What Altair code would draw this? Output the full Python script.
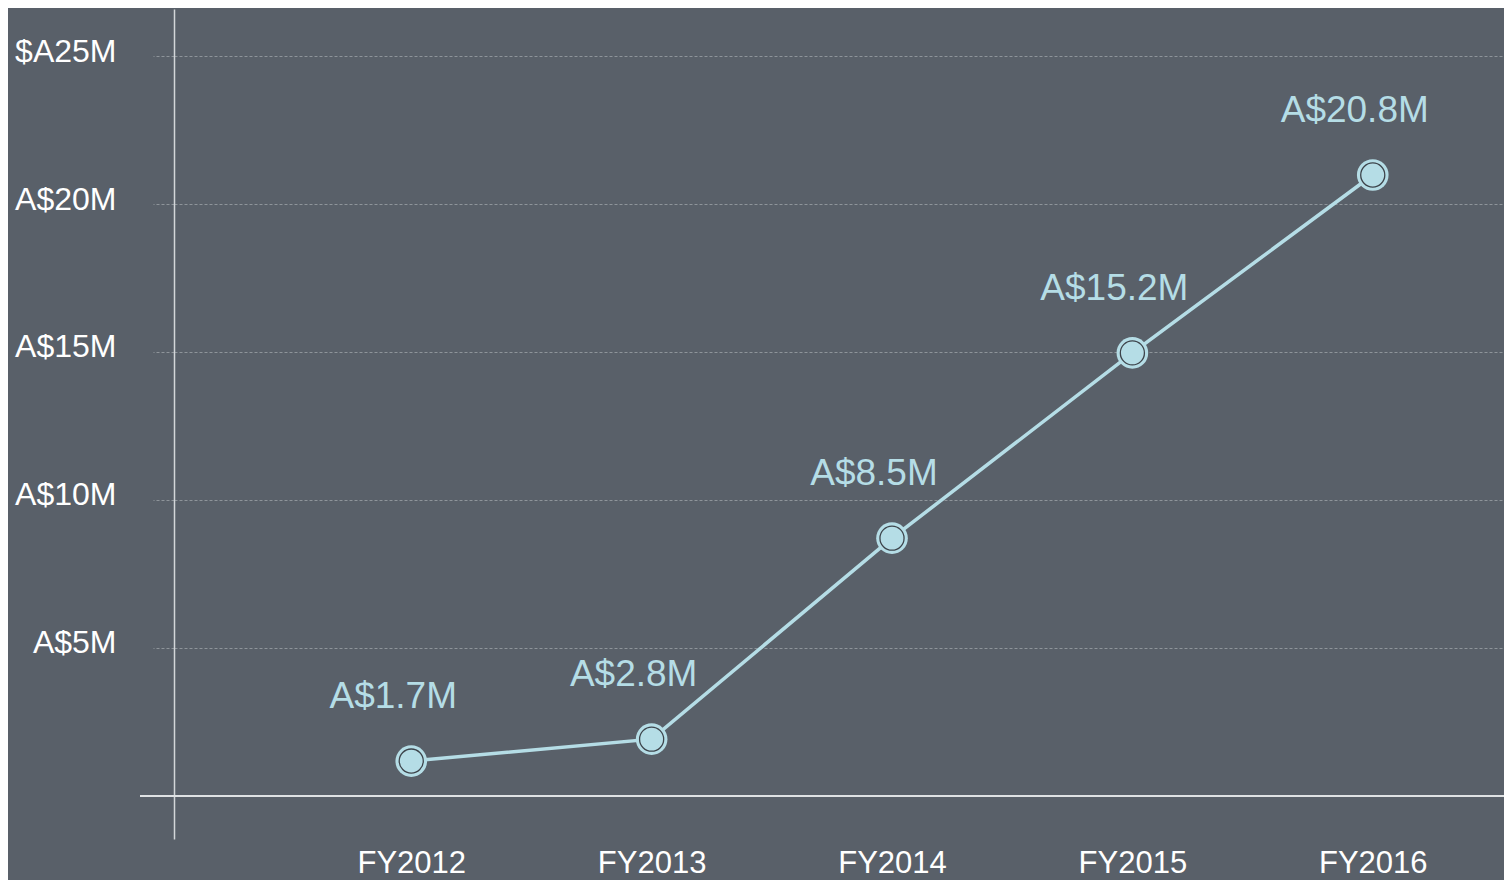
import altair as alt
import pandas as pd

# ---- data ----
years = [2012, 2013, 2014, 2015, 2016]
revenue_m = [1.18, 1.92, 8.71, 14.97, 20.98]
value_labels = ["A$1.7M", "A$2.8M", "A$8.5M", "A$15.2M", "A$20.8M"]

y_tick_values = [5, 10, 15, 20, 25]
y_tick_labels = ["A$5M", "A$10M", "A$15M", "A$20M", "$A25M"]
x_prefix = "FY"

df = pd.DataFrame({"year": years, "revenue": revenue_m, "label": value_labels})

BG = "#596069"
LINE = "#b5dde6"
FONT = "Liberation Sans"
W, H = 1330, 830

y_label_expr = " : ".join(
    [f"datum.value == {v} ? '{t}'" for v, t in zip(y_tick_values, y_tick_labels)] + ["''"]
)

x_scale = alt.Scale(domain=[2011.013, 2016.546], nice=False, zero=False)
y_scale = alt.Scale(domain=[-1.453, 26.588], nice=False, zero=False)

x_enc = alt.X(
    "year:Q",
    scale=x_scale,
    axis=alt.Axis(
        values=years,
        labelExpr=f"'{x_prefix}' + datum.value",
        ticks=False,
        tickSize=0,
        domain=False,
        grid=False,
        title=None,
        labelBaseline="alphabetic",
        labelPadding=33,
        labelFontSize=31,
        labelColor="#ffffff",
        labelFont=FONT,
    ),
)

y_enc = alt.Y(
    "revenue:Q",
    scale=y_scale,
    axis=alt.Axis(
        values=y_tick_values,
        labelExpr=y_label_expr,
        title=None,
        grid=True,
        gridColor="#8e949a",
        gridDash=[3, 2],
        gridWidth=1,
        ticks=True,
        tickSize=21,
        tickColor="#8e949a",
        tickDash=[3, 2],
        tickWidth=1,
        domain=True,
        domainColor="#d3d6d9",
        domainWidth=1.5,
        labelPadding=37,
        labelBaseline="alphabetic",
        labelOffset=5,
        labelFontSize=32,
        labelColor="#ffffff",
        labelFont=FONT,
    ),
)

base = alt.Chart(df)

line = base.mark_line(color=LINE, strokeWidth=3.5).encode(x=x_enc, y=y_enc)

baseline = base.mark_rule(color="#dfe2e4", strokeWidth=1.5).encode(
    y=alt.datum(0),
    x=alt.value(-34),
    x2=alt.value(W),
)

outer = base.mark_point(
    shape="circle", filled=True, size=1000, color=LINE, opacity=1
).encode(x="year:Q", y="revenue:Q")

inner = base.mark_point(
    shape="circle", filled=False, size=580, color="#3d444b", strokeWidth=1.3, opacity=1
).encode(x="year:Q", y="revenue:Q")

labels = base.mark_text(
    color=LINE, font=FONT, fontSize=37, baseline="alphabetic", align="center",
    dx=-18, dy=-53,
).encode(x="year:Q", y="revenue:Q", text="label:N")

chart = (
    alt.layer(line, baseline, outer, inner, labels)
    .properties(
        width=W,
        height=H,
        padding={"left": 166, "top": 1, "right": 0, "bottom": 41},
        autosize=alt.AutoSizeParams(type="none"),
        background=BG,
    )
    .configure_view(stroke=None)
)

chart.save("out.html", embed_options={"renderer": "svg", "actions": False})
